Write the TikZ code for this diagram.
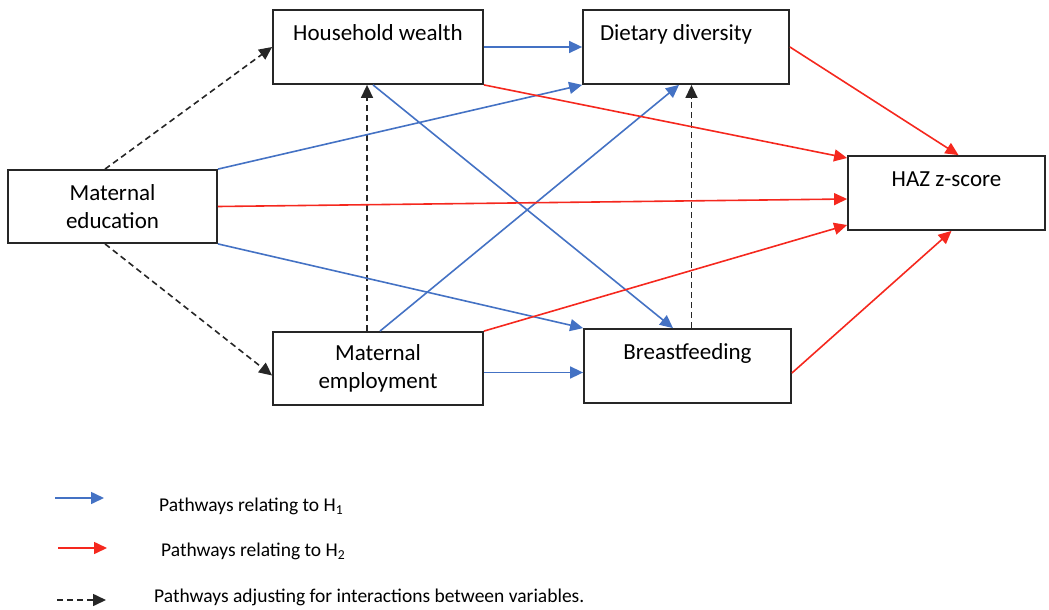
\documentclass[tikz,border=0pt]{standalone}
\usepackage{fontspec}
\setmainfont{Carlito}
\usetikzlibrary{arrows.meta}

\definecolor{hblue}{RGB}{68,114,196}
\definecolor{hred}{RGB}{245,40,30}

\tikzset{
  box/.style={draw=black!85,line width=1.8pt,minimum width=#1,minimum height=74pt,
              inner sep=0pt,align=center,font=\fontsize{23}{28}\selectfont},
  box/.default=210pt,
  arr/.style={line width=1.6pt,-{Triangle[length=13pt,width=12pt]}},
  bluearr/.style={arr,hblue},
  redarr/.style={arr,hred},
  dasharr/.style={arr,black!85,dash pattern=on 6pt off 4pt},
  legtext/.style={anchor=west,inner sep=0pt,font=\fontsize{19.5}{24}\selectfont}
}

\begin{document}
\begin{tikzpicture}[x=1pt,y=-1pt]
  \useasboundingbox (0,0) rectangle (1049,610);

  % Variables
  \node[box=210pt] (wealth) at (378,47) {Household wealth\\\mbox{}};
  \node[box=206pt] (diet) at (686,47) {Dietary diversity\hspace*{20pt}\\\mbox{}};
  \node[box=209pt,minimum height=73pt] (educ) at (112.5,206.5) {Maternal\\education};
  \node[box=197pt] (haz) at (946.5,193) {HAZ z-score\\\mbox{}};
  \node[box=210pt,minimum height=73pt] (employ) at (378,368.5) {Maternal\\employment};
  \node[box=207pt] (bfeed) at (687.5,366) {Breastfeeding\\\mbox{}};

  % Adjusting pathways
  \draw[dasharr] ([xshift=-7.5pt]educ.north) -- (wealth.west);
  \draw[dasharr] ([xshift=-7.5pt]educ.south) -- ([yshift=-7pt]employ.west);
  \draw[dasharr] ([xshift=-11pt]employ.north) -- ([xshift=-11pt]wealth.south);
  \draw[dasharr] ([xshift=4pt]bfeed.north) -- ([xshift=4pt]bfeed.north |- diet.south);

  % Pathways H1
  \draw[bluearr] (wealth.east) -- (diet.west);
  \draw[bluearr] (educ.north east) -- (diet.south west);
  \draw[bluearr] (educ.south east) -- (bfeed.north west);
  \draw[bluearr] ([xshift=-5pt]wealth.south) -- ([xshift=-14.5pt]bfeed.north);
  \draw[bluearr] ([xshift=2pt]employ.north) -- ([xshift=-7pt]diet.south);
  \draw[bluearr] ([yshift=-4pt]employ.east) -- ([yshift=-4pt]employ.east -| bfeed.west);

  % Pathways H2
  \draw[redarr] (wealth.south east) -- ([yshift=35pt]haz.west);
  \draw[redarr] (educ.east) -- ([yshift=-6pt]haz.west);
  \draw[redarr] (employ.north east) -- ([yshift=-32pt]haz.west);
  \draw[redarr] (diet.east) -- ([xshift=12pt]haz.north);
  \draw[redarr] ([yshift=-7pt]bfeed.east) -- ([xshift=5pt]haz.south);

  % Legend
  \coordinate (lb0) at (55,498);  \coordinate (lb1) at (104,498);
  \coordinate (lr0) at (58,548);  \coordinate (lr1) at (107,548);
  \coordinate (ld0) at (57,600);  \coordinate (ld1) at (106,600);
  \draw[bluearr] (lb0) -- (lb1);
  \draw[redarr] (lr0) -- (lr1);
  \draw[dasharr] (ld0) -- (ld1);
  \node[legtext] (legh1) at (159,506) {Pathways relating to H\textsubscript{1}};
  \node[legtext] (legh2) at (161,551) {Pathways relating to H\textsubscript{2}};
  \node[legtext] (legadj) at (154,597) {Pathways adjusting for interactions between variables.};
\end{tikzpicture}
\end{document}
